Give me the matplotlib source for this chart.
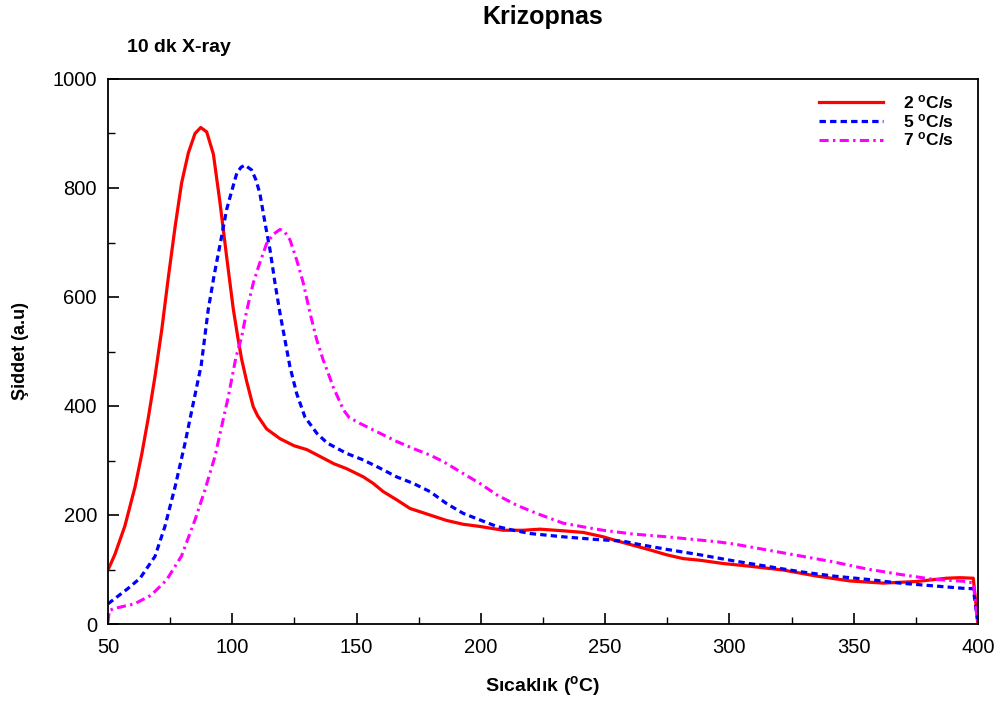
import matplotlib
matplotlib.use("Agg")
import matplotlib.pyplot as plt
from matplotlib.ticker import MultipleLocator

plt.rcParams['font.family'] = ['Liberation Sans', 'DejaVu Sans']
plt.rcParams['mathtext.fontset'] = 'custom'
plt.rcParams['mathtext.rm'] = 'Liberation Sans'
plt.rcParams['mathtext.bf'] = 'Liberation Sans:bold'

# 2 °C/s
t_red = [50, 52.8, 56.8, 60.9, 63.6, 66.2, 68.9, 71.6, 74.3, 77, 79.6, 82.3, 85, 87.3, 89.7, 92.4,
         95, 97.7, 100.4, 102.4, 103.8, 105.8, 108.4, 110.2, 113.8, 119.2, 124.9, 130, 134.2, 140.9,
         146, 152.7, 156.7, 160.7, 166.1, 171.5, 179.5, 186.2, 192.9, 199.6, 209, 217, 223.8, 233.1,
         241.2, 249.2, 256, 268, 274.7, 281.4, 288.1, 297.5, 308.2, 321.6, 335, 348.5, 361.9, 375.3,
         387.3, 392.7, 398.1, 400]
i_red = [99, 128, 180, 252, 312, 378, 454, 539, 637, 729, 809, 864, 900, 911, 903, 862,
         775, 675, 578, 521, 485, 445, 399, 382, 358, 340, 327, 320, 310, 294,
         285, 270, 258, 243, 228, 212, 200, 190, 183, 179, 172, 172, 174, 171,
         168, 160, 151, 136, 127, 120, 117, 111, 106, 99, 88, 79, 75, 78,
         84, 85, 84, 0]

# 5 °C/s
t_blue = [50, 58, 62.9, 68.9, 72.9, 77, 81, 84.3, 87.5, 90.3, 92.7, 95.7, 97.7, 99.5, 101.8, 103.5,
          105.1, 107.8, 109.5, 111.1, 113.2, 115.2, 117.2, 119.2, 121.2, 123.2, 125.9, 129.2, 134,
          138.2, 146, 152.7, 159.4, 166.1, 172.8, 179.5, 186.2, 192.9, 199.6, 206.4, 213.1, 219.8,
          233.1, 246.6, 257.3, 261.3, 274.7, 288.1, 301.5, 314.9, 328.4, 341.8, 355.2, 368.6, 382,
          395.4, 398.1, 400]
i_blue = [37, 65, 84, 124, 179, 252, 332, 405, 475, 576, 640, 711, 760, 790, 827, 838,
          842, 833, 815, 790, 735, 686, 625, 570, 521, 472, 423, 380, 350,
          332, 313, 301, 286, 270, 258, 243, 221, 203, 191, 179, 172, 166,
          160, 155, 152, 148, 137, 127, 116, 106, 96, 88, 82, 75, 70,
          65, 65, 0]

# 7 °C/s
t_mag = [50, 50.5, 53, 60.7, 67.4, 73.6, 79.6, 85, 89, 93, 95.7, 98.4, 101.5, 103.8, 105.8, 108.4,
         110.5, 113.8, 116.5, 119.2, 121, 123.2, 125.9, 128.6, 131.3, 134, 136.6, 138.6, 140.6,
         144.7, 147, 151.4, 159.4, 166.1, 172.8, 179.5, 184.9, 192.9, 199.6, 206.4, 214.4, 222.4,
         233.1, 243.9, 249.2, 261.3, 274.7, 288.1, 294.8, 301.5, 314.9, 328.4, 341.8, 355.2, 368.6,
         382, 395.4, 398.1, 400]
i_mag = [3, 25, 29, 37, 53, 81, 125, 191, 246, 307, 362, 417, 490, 527, 575, 625,
         655, 698, 715, 724, 720, 705, 668, 625, 570, 521, 484, 460, 435,
         393, 379, 368, 350, 335, 322, 310, 298, 276, 258, 237, 218, 203,
         185, 176, 172, 165, 160, 154, 151, 147, 136, 125, 114, 101, 91,
         82, 78, 75, 0]

labels = [r'2 $\mathbf{^{o}}$C/s', r'5 $\mathbf{^{o}}$C/s', r'7 $\mathbf{^{o}}$C/s']

fig = plt.figure(figsize=(10.03, 7.09), dpi=100)
ax = fig.add_axes([108/1003, 1 - 624/709, 870/1003, 545/709])

ax.plot(t_red, i_red, color='#ff0000', lw=2.3, ls='-', label=labels[0])
ax.plot(t_blue, i_blue, color='#0000ff', lw=2.3, ls=(0, (2.0, 1.3)), label=labels[1])
ax.plot(t_mag, i_mag, color='#ff00ff', lw=2.2, ls=(0, (3.0, 1.4, 0.8, 1.4)), label=labels[2])

ax.set_xlim(50, 400)
ax.set_ylim(0, 1000)
ax.xaxis.set_major_locator(MultipleLocator(50))
ax.xaxis.set_minor_locator(MultipleLocator(25))
ax.yaxis.set_major_locator(MultipleLocator(200))
ax.yaxis.set_minor_locator(MultipleLocator(100))
ax.tick_params(which='major', direction='in', length=8, width=1.2, labelsize=14.5, pad=8)
ax.tick_params(axis='x', which='major', pad=10)
ax.tick_params(which='minor', direction='in', length=5, width=1.0)
for s in ax.spines.values():
    s.set_linewidth(1.3)

ax.set_xlabel(r'Sıcaklık ($\mathbf{^{o}}$C)', fontsize=14, fontweight='bold', labelpad=12)
ax.set_ylabel('Şiddet (a.u)', fontsize=13, fontweight='bold', labelpad=17)

fig.text(543/1003, 1 - 17/709, 'Krizopnas', ha='center', va='center', fontsize=18, fontweight='bold')
fig.text(127/1003, 1 - 47/709, '10 dk X-ray', ha='left', va='center', fontsize=14, fontweight='bold')

leg = ax.legend(loc='upper right', bbox_to_anchor=(0.99, 1.003), frameon=False,
                handlelength=3.7, handletextpad=1.15, labelspacing=0.05,
                prop={'weight': 'bold', 'size': 12.5})

fig.savefig('out.png', dpi=100)
